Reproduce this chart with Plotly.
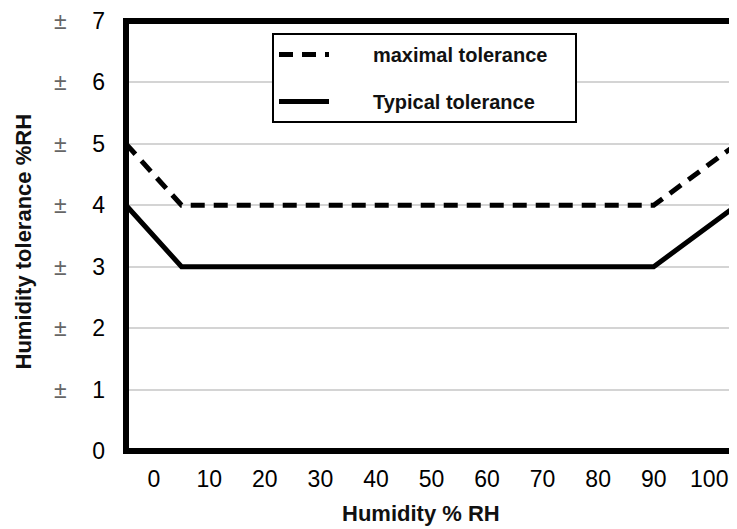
import plotly.graph_objects as go

# Data
x_max = [-5, 5, 90, 105]
y_max = [5, 4, 4, 5]
x_typ = [-5, 5, 90, 105]
y_typ = [4, 3, 3, 4]
x_ticks = [0, 10, 20, 30, 40, 50, 60, 70, 80, 90, 100]
y_ticks = [0, 1, 2, 3, 4, 5, 6, 7]
series_names = ["maximal tolerance", "Typical tolerance"]

FONT = "Liberation Sans, Arial, sans-serif"
OFF = 8  # page body margin
W, H = 737 - OFF, 529 - OFF
ML, MR, MT, MB = 126 - OFF, 0, 18 - OFF, 78
PW, PH = W - ML - MR, H - MT - MB


def px_x(sx):
    """screen x pixel -> paper fraction"""
    return (sx - OFF - ML) / PW


def px_y(sy):
    """screen y pixel -> paper fraction"""
    return 1 - (sy - OFF - MT) / PH


y_ticktext = []
for v in y_ticks:
    if v == 0:
        y_ticktext.append(str(v))
    else:
        y_ticktext.append("<span style='color:#666'>±</span>" + "\u00a0" * 4 + str(v))

pad_l = "\u00a0" * 7
pad_r = "\u00a0" * 4

fig = go.Figure()
fig.add_trace(go.Scatter(
    x=x_max, y=y_max, mode="lines", name=pad_l + series_names[0] + pad_r, legendgroup="a",
    line=dict(color="black", width=5, dash="14px,9px"),
))
fig.add_trace(go.Scatter(
    x=x_typ, y=y_typ, mode="lines", name=pad_l + series_names[1] + pad_r, legendgroup="b",
    line=dict(color="black", width=5),
))

fig.update_layout(
    width=W, height=H,
    margin=dict(l=ML, r=MR, t=MT, b=MB, pad=0),
    paper_bgcolor="white", plot_bgcolor="white",
    font=dict(family=FONT, color="#111"),
    showlegend=True,
    legend=dict(
        x=px_x(272), y=px_y(30),
        xanchor="left", yanchor="top",
        bordercolor="black", borderwidth=2, bgcolor="white",
        font=dict(family=FONT, size=20, color="#111", weight="bold"),
        traceorder="grouped", tracegroupgap=18,
        itemwidth=50,
    ),
    xaxis=dict(
        range=[-5, 105], tickmode="array", tickvals=x_ticks,
        ticktext=[str(v) for v in x_ticks],
        showgrid=False, zeroline=False, showline=False, ticks="",
        tickfont=dict(family=FONT, size=23, color="#000"),
        ticklabelstandoff=12, ticklabeloverflow="allow",
    ),
    yaxis=dict(
        range=[0, 7], tickmode="array", tickvals=y_ticks, ticktext=y_ticktext,
        showgrid=True, gridcolor="#d4d4d4", gridwidth=2,
        zeroline=False, showline=False, ticks="",
        tickfont=dict(family=FONT, size=23, color="#000"),
        ticklabelstandoff=20, ticklabeloverflow="allow",
    ),
    shapes=[dict(
        type="path", xref="paper", yref="paper",
        path="M 1.01,1 L 0,1 L 0,0 L 1.01,0",
        line=dict(color="black", width=6),
    )],
    annotations=[
        dict(text="<b>Humidity % RH</b>", xref="paper", yref="paper",
             x=px_x(421), y=px_y(514),
             xanchor="center", yanchor="middle", showarrow=False,
             font=dict(family=FONT, size=22, color="#111")),
        dict(text="<b>Humidity tolerance %RH</b>", xref="paper", yref="paper",
             x=px_x(23), y=px_y(240),
             xanchor="center", yanchor="middle", textangle=-90, showarrow=False,
             font=dict(family=FONT, size=22, color="#111")),
    ],
)

fig.write_html("out.html")
